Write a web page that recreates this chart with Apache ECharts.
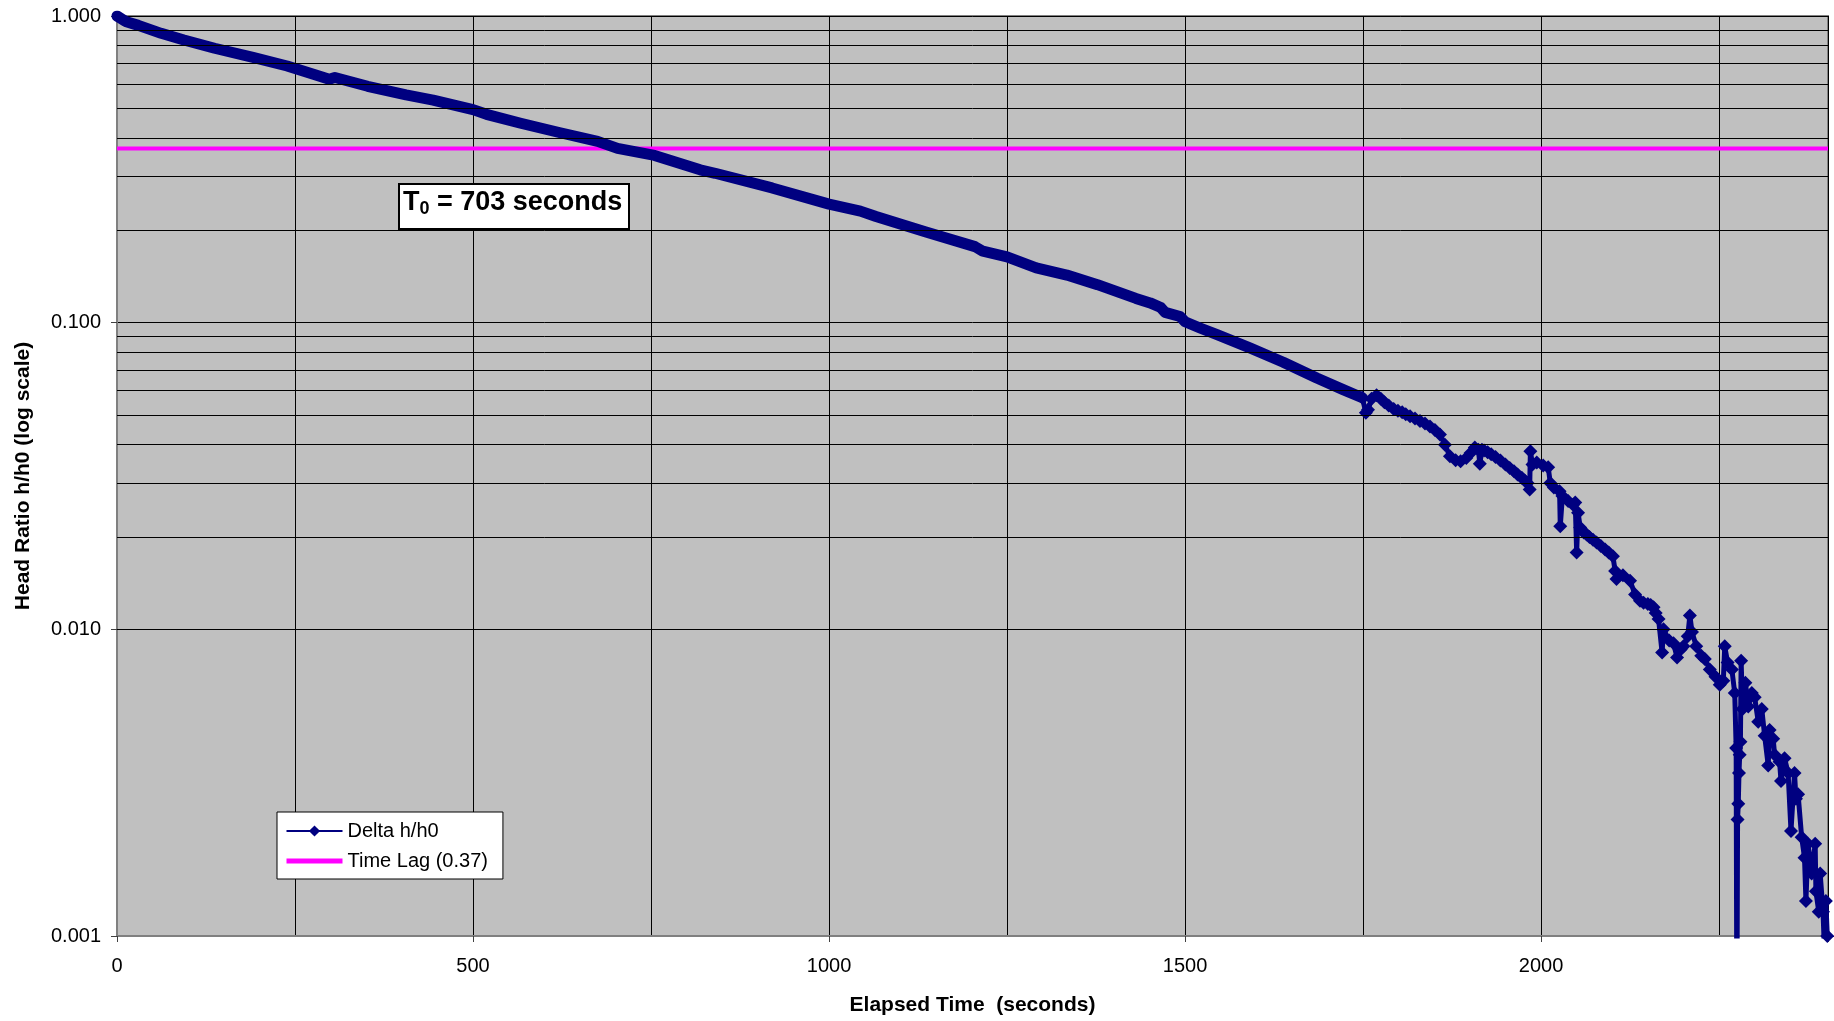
<!DOCTYPE html>
<html>
<head>
<meta charset="utf-8">
<script src="https://cdn.jsdelivr.net/npm/echarts@6.0.0/dist/echarts.min.js"></script>
<style>
  html, body { margin: 0; padding: 0; background: #ffffff; }
  #chart { width: 1834px; height: 1021px; }
</style>
</head>
<body>
<div id="chart"></div>
<script>
// Falling-head slug test: normalised head h/h0 against elapsed time.

// Early, smooth part of the record (seconds, h/h0)
const earlyTime = [
  0, 12, 30, 62, 94, 137, 191, 239, 277, 298,
  306, 352, 406, 444, 500, 519, 567, 621, 675, 703,
  755, 819, 840, 920, 1000, 1044, 1066, 1135, 1205, 1216,
  1250, 1291, 1334, 1377, 1431, 1451, 1466, 1472, 1493, 1500,
  1521, 1545, 1591, 1638, 1685, 1722, 1749
];
const earlyRatio = [
  1.000, 0.960, 0.932, 0.878, 0.835, 0.785, 0.733, 0.687, 0.645, 0.622,
  0.630, 0.590, 0.553, 0.532, 0.495, 0.478, 0.447, 0.417, 0.390, 0.370,
  0.351, 0.315, 0.307, 0.275, 0.2435, 0.231, 0.222, 0.198, 0.177, 0.171,
  0.164, 0.151, 0.143, 0.133, 0.120, 0.116, 0.112, 0.108, 0.1047, 0.1007,
  0.0961, 0.0914, 0.0827, 0.0743, 0.0660, 0.0605, 0.0569
];

// Late, noisy part of the record (seconds, h/h0)
const lateTime = [
  1749, 1754, 1757, 1762, 1769, 1775, 1780, 1786, 1793, 1799,
  1805, 1810, 1816, 1823, 1830, 1837, 1844, 1851, 1858, 1865,
  1872, 1880, 1887, 1895, 1901, 1907, 1912, 1914, 1917, 1920,
  1925, 1930, 1936, 1943, 1950, 1956, 1962, 1967, 1973, 1977,
  1981, 1984, 1985, 1988, 1994, 2003, 2010, 2013, 2018, 2026,
  2027, 2030, 2038, 2045, 2048, 2050, 2052, 2055, 2060, 2064,
  2068, 2073, 2078, 2084, 2090, 2095, 2101, 2104, 2106, 2115,
  2125, 2132, 2139, 2144, 2150, 2154, 2158, 2161, 2165, 2170,
  2172, 2180, 2186, 2191, 2196, 2200, 2206, 2209, 2212, 2218,
  2225, 2230, 2237, 2245, 2251, 2256, 2258, 2262, 2268, 2272,
  2274, 2275, 2276, 2277, 2278, 2279, 2280, 2281, 2283, 2287,
  2291, 2296, 2300, 2305, 2310, 2314, 2319, 2321, 2326, 2328,
  2335, 2337, 2342, 2347, 2351, 2356, 2358, 2361, 2366, 2370,
  2372, 2375, 2380, 2385, 2386, 2390, 2392, 2396, 2398, 2400,
  2402, 2403
];
const lateRatio = [
  0.0569, 0.0508, 0.0520, 0.0565, 0.0580, 0.0565, 0.0550, 0.0537, 0.0523, 0.0516,
  0.0510, 0.0503, 0.0495, 0.0487, 0.0478, 0.0469, 0.0459, 0.0447, 0.0432, 0.0400,
  0.0367, 0.0356, 0.0353, 0.0362, 0.0376, 0.0392, 0.0385, 0.0347, 0.0385, 0.0383,
  0.0378, 0.0372, 0.0365, 0.0355, 0.0345, 0.0336, 0.0328, 0.0320, 0.0312, 0.0306,
  0.0300, 0.0286, 0.0381, 0.0345, 0.0350, 0.0342, 0.0338, 0.0300, 0.0290, 0.0282,
  0.0217, 0.0272, 0.0262, 0.0255, 0.0259, 0.0178, 0.0240, 0.0215, 0.0207, 0.0204,
  0.0200, 0.0196, 0.0192, 0.0187, 0.0182, 0.0178, 0.0173, 0.0155, 0.0146, 0.0150,
  0.0144, 0.0130, 0.0124, 0.0122, 0.0121, 0.0120, 0.0118, 0.0113, 0.0108, 0.0084,
  0.0100, 0.0092, 0.0090, 0.0081, 0.0086, 0.0088, 0.0095, 0.0111, 0.0098, 0.0088,
  0.0082, 0.0080, 0.0074, 0.0070, 0.0066, 0.0068, 0.0088, 0.0078, 0.0074, 0.0062,
  0.0041, 0.0005, 0.0024, 0.0027, 0.0034, 0.0039, 0.0043, 0.0079, 0.0055, 0.0067,
  0.0056, 0.0062, 0.0060, 0.0050, 0.0055, 0.0045, 0.0036, 0.0047, 0.0044, 0.0039,
  0.0037, 0.0032, 0.0038, 0.0034, 0.0022, 0.0034, 0.0028, 0.0029, 0.0021, 0.0018,
  0.0013, 0.0020, 0.0016, 0.0020, 0.0014, 0.0012, 0.0016, 0.0012, 0.0009, 0.0013,
  0.0010, 0.0008
];

// Time lag reference level (h/h0 = 0.37)
const lagTime = [0, 2403];
const lagRatio = [0.37, 0.37];

// Axis ranges and intermediate log grid levels
const timeMin = 0;
const timeMax = 2403;
const ratioMin = 0.001;
const ratioMax = 1;
const minorGridRatios = [
  0.002, 0.003, 0.004, 0.005, 0.006, 0.007, 0.008, 0.009,
  0.02, 0.03, 0.04, 0.05, 0.06, 0.07, 0.08, 0.09,
  0.2, 0.3, 0.4, 0.5, 0.6, 0.7, 0.8, 0.9
];

const FONT = '"Liberation Sans", Arial, Helvetica, sans-serif';
const NAVY = '#000080';
const MAGENTA = '#FF00FF';

const zip = (xs, ys) => xs.map((x, i) => [x, ys[i]]);

const chart = echarts.init(document.getElementById('chart'), null, { renderer: 'canvas' });

chart.setOption({
  animation: false,
  backgroundColor: '#ffffff',
  textStyle: { fontFamily: FONT },
  grid: {
    left: 117, top: 16, right: 6, bottom: 84,
    show: true,
    backgroundColor: '#C0C0C0',
    borderColor: '#808080',
    borderWidth: 2
  },
  legend: {
    orient: 'vertical',
    left: 277, top: 812,
    backgroundColor: '#ffffff',
    borderColor: '#000000',
    borderWidth: 1,
    borderRadius: 0,
    padding: [8, 15, 7, 7],
    itemGap: 8,
    itemWidth: 56,
    itemHeight: 14,
    selectedMode: false,
    textStyle: { fontSize: 20, color: '#000', lineHeight: 22, fontFamily: FONT },
    data: [
      { name: 'Delta h/h0', lineStyle: { width: 2 } },
      { name: 'Time Lag (0.37)', itemStyle: { opacity: 0 }, lineStyle: { width: 5 } }
    ]
  },
  xAxis: [
    {
      type: 'value',
      min: timeMin, max: timeMax, interval: 500,
      position: 'bottom',
      name: 'Elapsed Time  (seconds)',
      nameLocation: 'middle',
      nameGap: 59,
      nameTextStyle: { fontSize: 21, fontWeight: 'bold', color: '#000', fontFamily: FONT },
      axisLine: { show: true, lineStyle: { color: '#808080', width: 2 } },
      axisTick: { show: true, length: 6, lineStyle: { color: '#404040' } },
      axisLabel: {
        fontSize: 20, color: '#000', margin: 20, fontFamily: FONT,
        formatter: v => (v % 500 === 0 ? String(v) : '')
      },
      splitLine: { show: false }
    },
    {
      type: 'value',
      min: timeMin, max: timeMax, interval: 250,
      position: 'bottom',
      axisLine: { show: false },
      axisTick: { show: false },
      axisLabel: { show: false },
      splitLine: { show: true, lineStyle: { color: '#000', width: 1 } }
    }
  ],
  yAxis: {
    type: 'log',
    logBase: 10,
    min: ratioMin, max: ratioMax,
    name: 'Head Ratio h/h0 (log scale)',
    nameLocation: 'middle',
    nameGap: 83,
    nameTextStyle: { fontSize: 21, fontWeight: 'bold', color: '#000', fontFamily: FONT },
    axisLine: { show: true, lineStyle: { color: '#808080', width: 2 } },
    axisTick: { show: true, length: 6, lineStyle: { color: '#404040' } },
    axisLabel: {
      fontSize: 20, color: '#000', margin: 16, fontFamily: FONT,
      formatter: v => Number(v).toFixed(3)
    },
    splitLine: { show: true, lineStyle: { color: '#000', width: 1 } }
  },
  series: [
    {
      // intermediate log gridlines (2..9 within each decade)
      name: 'logGrid',
      type: 'line',
      data: [],
      silent: true,
      z: 1,
      markLine: {
        silent: true,
        animation: false,
        symbol: ['none', 'none'],
        label: { show: false },
        emphasis: { disabled: true },
        lineStyle: { color: '#000', width: 1, type: 'solid' },
        data: minorGridRatios.map(v => ({ yAxis: v }))
      }
    },
    {
      name: 'Time Lag (0.37)',
      type: 'line',
      data: zip(lagTime, lagRatio),
      symbol: 'none',
      silent: true,
      z: 2,
      lineStyle: { color: MAGENTA, width: 4 },
      itemStyle: { color: MAGENTA },
      emphasis: { disabled: true }
    },
    {
      name: 'Delta h/h0',
      type: 'line',
      data: zip(lateTime, lateRatio),
      symbol: 'diamond',
      symbolSize: 14,
      showSymbol: true,
      silent: true,
      clip: true,
      z: 4,
      lineStyle: { color: NAVY, width: 5, join: 'round' },
      itemStyle: { color: NAVY },
      emphasis: { disabled: true }
    },
    {
      name: 'Delta h/h0',
      type: 'line',
      data: zip(earlyTime, earlyRatio),
      symbol: 'none',
      silent: true,
      clip: true,
      z: 4,
      lineStyle: { color: NAVY, width: 11, join: 'round', cap: 'round' },
      itemStyle: { color: NAVY },
      emphasis: { disabled: true }
    }
  ],
  graphic: [
    {
      type: 'rect',
      z: 100,
      shape: { x: 399, y: 184, width: 230, height: 45 },
      style: { fill: '#ffffff', stroke: '#000000', lineWidth: 2 }
    },
    {
      type: 'text',
      z: 101,
      x: 403,
      y: 203,
      style: {
        text: '{b|T}{s|0}{b| = 703 seconds}',
        align: 'left',
        verticalAlign: 'middle',
        fill: '#000',
        rich: {
          b: { fontSize: 27, fontWeight: 'bold', fontFamily: FONT, fill: '#000', lineHeight: 30 },
          s: { fontSize: 18, fontWeight: 'bold', fontFamily: FONT, fill: '#000', lineHeight: 14, verticalAlign: 'bottom' }
        }
      }
    }
  ]
});
</script>
</body>
</html>
